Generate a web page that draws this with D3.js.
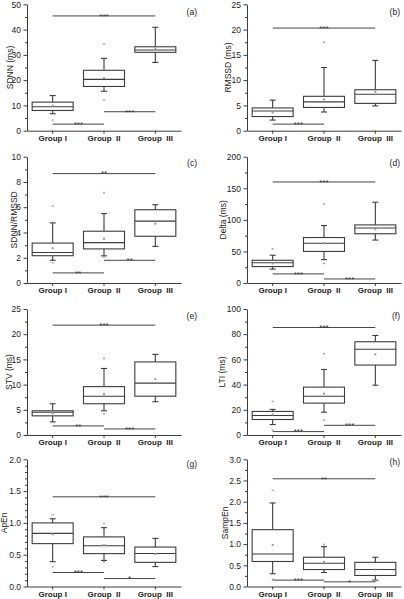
<!DOCTYPE html>
<html><head><meta charset="utf-8">
<script src="https://cdn.jsdelivr.net/npm/d3@7"></script>
<style>body{margin:0;background:#fff} svg{display:block;font-family:"Liberation Sans",Arial,sans-serif} .xl text{white-space:pre}</style>
</head><body><svg id="c" width="404" height="599"></svg>
<script>
const groups = ["Group I", "Group  II", "Group  III"];
// each box: [low whisker, Q1, median, Q3, high whisker]
const sdnnBox = [[6.7,8.0,9.5,11.3,13.9],[15.6,17.5,20.3,23.9,28.6],[27.0,31.0,31.9,33.2,40.9]];
const sdnnMean = [9.9,20.8,32.6];
const sdnnOut = [[4.2],[34.2,12.1],[]];
const sdnnSig = [[0,2,45.4,"***"],[0,1,2.6,"***"],[1,2,7.5,"***"]];

const rmssdBox = [[2.1,2.8,3.9,4.5,6.05],[3.7,4.6,5.7,6.8,12.5],[4.9,5.4,7.2,8.1,13.9]];
const rmssdMean = [3.6,6.2,7.7];
const rmssdOut = [[],[17.5],[]];
const rmssdSig = [[0,2,20.3,"***"],[0,1,1.3,"***"]];

const ratioBox = [[1.8,2.16,2.42,3.16,4.76],[2.15,2.7,3.2,4.1,5.5],[2.9,3.7,4.9,5.8,6.2]];
const ratioMean = [2.76,3.5,4.7];
const ratioOut = [[6.1,1.6],[7.15,2.05],[]];
const ratioSig = [[0,2,8.66,"**"],[0,1,0.8,"**"],[1,2,1.8,"**"]];

const deltaBox = [[22,26,32,36,44],[37,50,63,72,91],[68,78,87,92,128]];
const deltaMean = [31,63,85];
const deltaOut = [[54],[125,31],[]];
const deltaSig = [[0,2,160,"***"],[0,1,14.4,"***"],[1,2,6.4,"***"]];

const stvBox = [[2.6,3.8,4.5,4.8,6.2],[4.8,6.2,7.7,9.6,13.2],[6.6,7.7,10.3,14.5,16.0]];
const stvMean = [4.3,8.1,11.1];
const stvOut = [[],[15.2,4.2],[]];
const stvSig = [[0,2,21.8,"***"],[0,1,1.8,"**"],[1,2,1.2,"***"]];

const ltiBox = [[8.3,12.3,15.5,18.7,20.3],[18.1,25.3,30.7,38,52],[39.5,55.5,68,74,79]];
const ltiMean = [16.3,32.8,64];
const ltiOut = [[26.7,4],[64.5,11.7],[]];
const ltiSig = [[0,2,85.3,"***"],[0,1,2.7,"***"],[1,2,7.7,"***"]];

const apenBox = [[0.39,0.674,0.835,1.0,1.065],[0.41,0.517,0.64,0.78,0.925],[0.313,0.38,0.52,0.62,0.757]];
const apenMean = [0.82,0.65,0.51];
const apenOut = [[1.13,0.31],[0.99,0.39],[]];
const apenSig = [[0,2,1.41,"***"],[0,1,0.22,"***"],[1,2,0.125,"*"]];

const sampBox = [[0.3,0.59,0.765,1.34,1.97],[0.33,0.4,0.55,0.69,0.94],[0.15,0.26,0.4,0.57,0.69]];
const sampMean = [0.98,0.58,0.4];
const sampOut = [[2.27,0.17],[0.99],[0.13]];
const sampSig = [[0,2,2.54,"**"],[0,1,0.15,"***"],[1,2,0.11,"*"]];

const labels = ["(a)","(b)","(c)","(d)","(e)","(f)","(g)","(h)"];
const titles = ["SDNN (ms)","RMSSD (ms)","SDNN/RMSSD","Delta (ms)","STV (ms)","LTI (ms)","ApEn","SampEn"];
const yMax = [50,25,10,200,25,100,2.0,3.0];
const yStep = [10,5,2,50,5,20,0.5,0.5];
const yMinor = [5,2.5,1,25,2.5,10,0.1,0.25];
const yDec = [0,0,0,0,0,0,1,1];

const panels = [
  [sdnnBox,sdnnMean,sdnnOut,sdnnSig],[rmssdBox,rmssdMean,rmssdOut,rmssdSig],
  [ratioBox,ratioMean,ratioOut,ratioSig],[deltaBox,deltaMean,deltaOut,deltaSig],
  [stvBox,stvMean,stvOut,stvSig],[ltiBox,ltiMean,ltiOut,ltiSig],
  [apenBox,apenMean,apenOut,apenSig],[sampBox,sampMean,sampOut,sampSig]
];

// layout
const colX = [[27,181],[247,401]];
const rowY = [[130.7,4.3],[283,156.7],[435,309],[586.5,459.3]];
const titleX = [10,228,14.5,223.5,9.5,222,4,225];
const labelY = [15,15,166,166,319,319,467,465];
const boxW = 41, capW = 6;
const ink = "#3c3c3c";

const svg = d3.select("#c");

panels.forEach((p, i) => {
  const [box, mean, out, sig] = p;
  const col = i % 2, row = Math.floor(i / 2);
  const x = d3.scaleBand().domain(groups).range(colX[col]).padding(0);
  const y = d3.scaleLinear().domain([0, yMax[i]]).range(rowY[row]);
  const cx = g => x(g) + x.bandwidth() / 2;
  const g = svg.append("g");

  const major = d3.range(0, yMax[i] + 1e-9, yStep[i]);
  const minor = d3.range(0, yMax[i] + 1e-9, yMinor[i]).filter(v => !major.some(m => Math.abs(m - v) < 1e-9));
  const fmt = d3.format(yDec[i] ? ".1f" : "d");

  const gm = g.append("g").attr("transform", `translate(${colX[col][0]},0)`)
    .call(d3.axisLeft(y).tickValues(minor).tickSize(2).tickFormat(""));
  gm.select(".domain").remove();
  gm.selectAll("line").attr("stroke", ink);

  const gy = g.append("g").attr("transform", `translate(${colX[col][0]},0)`)
    .call(d3.axisLeft(y).tickValues(major).tickSize(3.5).tickSizeOuter(0).tickPadding(2.5).tickFormat(fmt));
  gy.select(".domain").attr("stroke", ink);
  gy.selectAll("line").attr("stroke", ink);
  gy.selectAll("text").attr("font-size", 8.5).attr("fill", "#222");

  const gx = g.append("g").attr("class", "xl").attr("transform", `translate(0,${rowY[row][0]})`)
    .call(d3.axisBottom(x).tickSize(3).tickSizeOuter(0).tickPadding(1.5));
  gx.select(".domain").attr("stroke", ink);
  gx.selectAll("line").attr("stroke", ink);
  gx.selectAll("text").attr("font-size", 8).attr("fill", "#222").attr("font-weight", "bold");

  g.append("text")
    .attr("transform", `translate(${titleX[i]},${(rowY[row][0] + rowY[row][1]) / 2}) rotate(-90)`)
    .attr("text-anchor", "middle").attr("dy", "0.35em")
    .attr("font-size", 8.5).attr("fill", "#222").text(titles[i]);

  g.append("text").attr("x", col ? 400 : 197).attr("y", labelY[i])
    .attr("text-anchor", "end").attr("font-size", 8.5).attr("fill", "#222").text(labels[i]);

  groups.forEach((gr, k) => {
    const [lo, q1, md, q3, hi] = box[k];
    const c = cx(gr);
    const b = g.append("g").attr("stroke", ink).attr("stroke-width", 1.1).attr("fill", "none");
    b.append("line").attr("x1", c).attr("x2", c).attr("y1", y(q3)).attr("y2", y(hi));
    b.append("line").attr("x1", c).attr("x2", c).attr("y1", y(q1)).attr("y2", y(lo));
    b.append("line").attr("x1", c - capW / 2).attr("x2", c + capW / 2).attr("y1", y(hi)).attr("y2", y(hi));
    b.append("line").attr("x1", c - capW / 2).attr("x2", c + capW / 2).attr("y1", y(lo)).attr("y2", y(lo));
    b.append("rect").attr("x", c - boxW / 2).attr("width", boxW)
      .attr("y", y(q3)).attr("height", y(q1) - y(q3)).attr("fill", "#fff");
    b.append("line").attr("x1", c - boxW / 2).attr("x2", c + boxW / 2).attr("y1", y(md)).attr("y2", y(md));
    g.append("rect").attr("x", c - 1).attr("y", y(mean[k]) - 1).attr("width", 2).attr("height", 2).attr("fill", "#999");
    out[k].forEach(v => {
      g.append("rect").attr("x", c - 1).attr("y", y(v) - 0.8).attr("width", 2).attr("height", 1.6).attr("fill", "#aaa");
    });
  });

  sig.forEach(([a, bIdx, v, s]) => {
    const x1 = cx(groups[a]), x2 = cx(groups[bIdx]);
    g.append("line").attr("x1", x1).attr("x2", x2).attr("y1", y(v)).attr("y2", y(v))
      .attr("stroke", "#444").attr("stroke-width", 1);
    g.append("text").attr("x", (x1 + x2) / 2).attr("y", y(v) + 2.8)
      .attr("text-anchor", "middle").attr("font-size", 8).attr("fill", "#333").text(s);
  });
});
</script>
</body></html>
